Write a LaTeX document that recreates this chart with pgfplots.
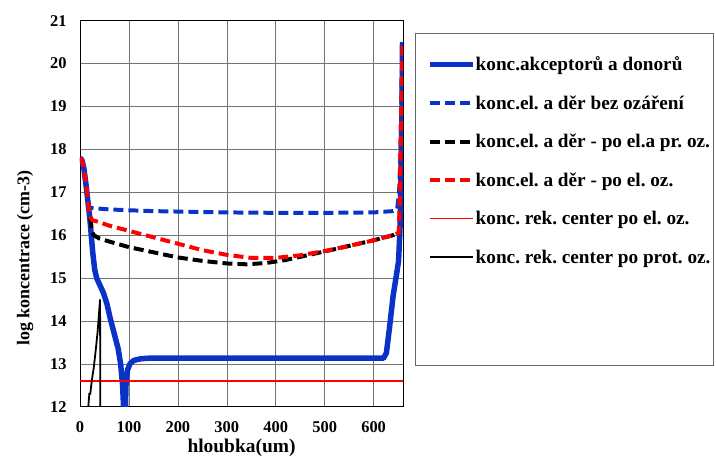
\documentclass[border=0pt]{standalone}
\usepackage{fontspec}
\setmainfont{Liberation Serif}
\usepackage{pgfplots}
\pgfplotsset{compat=1.18}
\definecolor{myblue}{RGB}{10,50,200}
\frenchspacing
\begin{document}
\begin{tikzpicture}
\begin{axis}[name=ax, scale only axis, width=323bp, height=386bp,
  xmin=0, xmax=660, ymin=12, ymax=21,
  xtick={0,100,...,600}, ytick={12,13,...,21},
  grid=major, major grid style={black!55, line width=0.6pt},
  axis line style={black, line width=0.8pt},
  tick style={draw=none},
  tick label style={font=\fontsize{16.5}{18}\selectfont\bfseries},
  every x tick label/.append style={yshift=-11bp},
  every y tick label/.append style={xshift=-10bp},
  /pgf/number format/assume math mode=true,
  xlabel={hloubka(um)}, ylabel={log koncentrace (cm-3)},
  xlabel style={font=\fontsize{19.5}{21}\selectfont\bfseries, at={(axis description cs:0.5,-0.106)}, anchor=center},
  ylabel style={font=\fontsize{18}{20}\selectfont\bfseries, at={(axis description cs:-0.17,0.385)}, anchor=center, rotate=0},
  legend cell align=left,
  legend image code/.code={\path (0bp,0bp); \draw[#1] (9bp,0bp) -- (52bp,0bp);},
  legend style={at={(1.037,0.968)}, anchor=north west, draw=black!60, line width=0.6pt,
    font=\fontsize{19.3}{21}\selectfont\bfseries\frenchspacing, inner xsep=3bp, inner ysep=12bp, row sep=0pt,
    nodes={inner sep=0pt, minimum height=38.5bp},
    /tikz/every odd column/.append style={column sep=0bp}},
]
\addplot[myblue, line width=5.5pt, line join=round] coordinates {
(0,17.8)(4,17.75)(8,17.55)(12,17.2)(16,16.8)(20,16.4)(23,16.0)(26,15.6)(30,15.2)(34,15.0)(40,14.85)(48,14.65)(55,14.4)(62,14.05)(70,13.7)(78,13.35)(83,13.0)(87,12.5)(89,12.0)(90,11.5)(92,11.5)(93,12.0)(94,12.5)(97,12.85)(102,13.0)(110,13.08)(125,13.12)(140,13.13)(620,13.13)(626,13.25)(632,13.8)(640,14.6)(647,15.1)(651,15.4)(654,16.2)(656,17.5)(658,19)(659,20.5)
};
\addlegendentry{konc.akceptorů a donorů}
\addplot[myblue, line width=4pt, dash pattern=on 10bp off 5bp] coordinates {
(0,17.8)(4,17.75)(8,17.55)(12,17.2)(16,16.85)(19,16.65)(25,16.63)(60,16.6)(100,16.58)(150,16.56)(200,16.55)(300,16.53)(400,16.52)(500,16.52)(600,16.53)(640,16.56)(648,16.6)(652,17)(655,18)(657,19.3)(659,20.5)
};
\addlegendentry{konc.el. a děr bez ozáření}
\addplot[black, line width=4pt, dash pattern=on 10bp off 5bp] coordinates {
(21,16.4)(24,16.1)(28,16.0)(40,15.92)(60,15.85)(100,15.72)(150,15.6)(200,15.48)(250,15.4)(300,15.34)(340,15.32)(380,15.35)(420,15.42)(460,15.52)(500,15.62)(550,15.75)(600,15.88)(640,16.0)(651,16.05)
};
\addlegendentry{konc.el. a děr - po el.a pr. oz.}
\addplot[red, line width=4pt, dash pattern=on 10bp off 5bp] coordinates {
(0,17.8)(4,17.75)(8,17.55)(12,17.2)(16,16.85)(20,16.45)(25,16.35)(40,16.3)(60,16.22)(100,16.1)(150,15.95)(200,15.8)(250,15.65)(300,15.54)(350,15.47)(400,15.47)(450,15.53)(500,15.63)(550,15.75)(600,15.88)(640,16.0)(651,16.05)(653,16.6)(655,18)(657,19.3)(659,20.5)
};
\addlegendentry{konc.el. a děr - po el. oz.}
\addplot[red, line width=1.6pt] coordinates {(0,12.6)(660,12.6)};
\addlegendentry{konc. rek. center po el. oz.}
\addplot[black, line width=1.8pt] coordinates {
(17,12.0)(19,12.3)(21,12.3)(24,12.6)(28,12.9)(32,13.3)(36,13.75)(41,14.5)(41.5,12.0)
};
\addlegendentry{konc. rek. center po prot. oz.}
\addlegendimage{empty legend}\addlegendentry{}
\addlegendimage{empty legend}\addlegendentry{}
\end{axis}
\pgfresetboundingbox
\path ([xshift=-80bp,yshift=-50.3bp]ax.south west) rectangle ([xshift=313bp,yshift=20.7bp]ax.north east);
\end{tikzpicture}
\end{document}
